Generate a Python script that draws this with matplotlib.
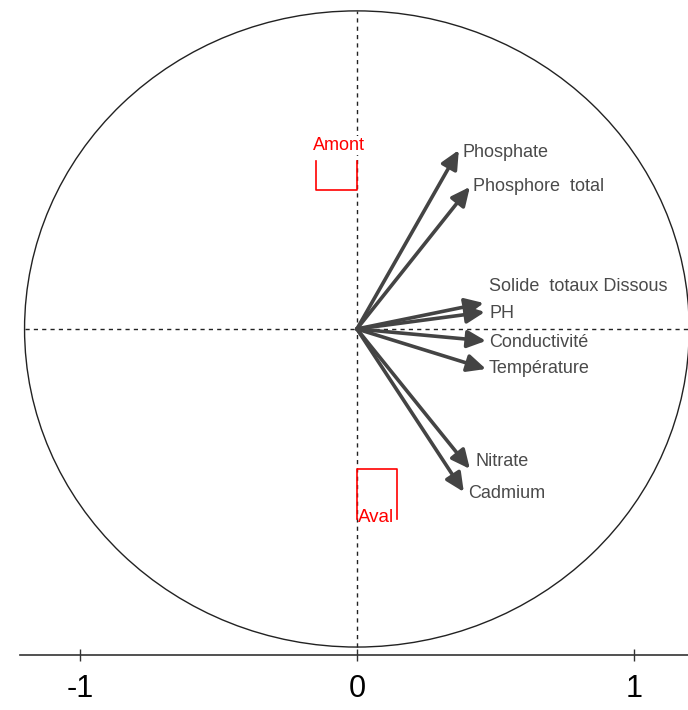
import matplotlib
matplotlib.use("Agg")
import matplotlib.pyplot as plt
from matplotlib.patches import Ellipse
import numpy as np

plt.rcParams["font.family"] = ["Liberation Sans", "DejaVu Sans"]

# Variable loadings (correlation circle)
variables = ["Phosphate", "Phosphore  total", "Solide  totaux Dissous", "PH",
             "Conductivité", "Température", "Nitrate", "Cadmium"]
load_x = [0.368, 0.408, 0.458, 0.462, 0.466, 0.466, 0.408, 0.386]
load_y = [0.675, 0.536, 0.098, 0.064, -0.045, -0.151, -0.528, -0.615]

# Group labels (Amont / Aval) and their boxes
groups = ["Amont", "Aval"]
group_x = [-0.074, 0.072]
group_y = [0.580, -0.624]

xticks = [-1, 0, 1]
radius = 1.2

# label offsets in points from each arrow tip
label_off = [(3, -2), (2, 0), (4, 12), (3, -1), (2, -1), (2, 0), (4, 5), (3, -1)]
# half sizes of group boxes (data units)
box_half = [(0.074, 0.055), (0.072, 0.094)]

fig = plt.figure(figsize=(6.88, 7.10), dpi=100)
ax = fig.add_axes([20.4 / 688, 55 / 710, 673 / 688, 651 / 710])
ax.set_xlim(-1.215, 1.215)
ax.set_ylim(-1.230, 1.226)

# circle and dashed axes
ax.add_patch(Ellipse((0, 0), 2 * radius, 2 * radius, fill=False, lw=1.0, ec="#222222", zorder=1))
ax.plot([-radius, radius], [0, 0], ls=(0, (3, 3)), lw=1.0, color="#222222", zorder=1)
ax.plot([0, 0], [-radius, radius], ls=(0, (3, 3)), lw=1.0, color="#222222", zorder=1)

# arrows
for name, x, y, off in zip(variables, load_x, load_y, label_off):
    ax.annotate("", xy=(x, y), xytext=(0, 0),
                arrowprops=dict(arrowstyle="-|>,head_length=0.7,head_width=0.33",
                                color="#444444", lw=2.6, mutation_scale=16,
                                shrinkA=0, shrinkB=0), zorder=4)
    ax.annotate(name, xy=(x, y), xytext=off, textcoords="offset points",
                ha="left", va="center", fontsize=13, color="#4a4a4a", zorder=3,
                bbox=dict(boxstyle="square,pad=0.08", fc="white", ec="none"))

# group boxes
for i, (g, gx, gy) in enumerate(zip(groups, group_x, group_y)):
    hw, hh = box_half[i]
    x0, x1, y0, y1 = gx - hw, gx + hw, gy - hh, gy + hh
    if i == 0:
        ax.plot([x0, x0, x1, x1], [y1, y0, y0, y1], color="red", lw=1.2, zorder=2)
        ax.text(gx + 0.01, y1 + 0.058, g, ha="center", va="center", fontsize=13,
                color="red", zorder=3,
                bbox=dict(boxstyle="square,pad=0.05", fc="white", ec="none"))
    else:
        ax.plot([x0, x0, x1, x1], [y0, y1, y1, y0], color="red", lw=1.2, zorder=2)
        ax.text(gx - 0.002, y0 + 0.005, g, ha="center", va="center", fontsize=13.5,
                color="red", zorder=3)

# bottom axis only
for s in ["top", "right", "left"]:
    ax.spines[s].set_visible(False)
ax.spines["bottom"].set_linewidth(1.2)
ax.spines["bottom"].set_color("#333333")
ax.set_yticks([])
ax.set_xticks(xticks)
ax.set_xticklabels([str(t) for t in xticks])
ax.tick_params(axis="x", direction="inout", length=9, width=1.0, color="#333333",
               labelsize=22, pad=9)

fig.savefig("out.png", dpi=100)
